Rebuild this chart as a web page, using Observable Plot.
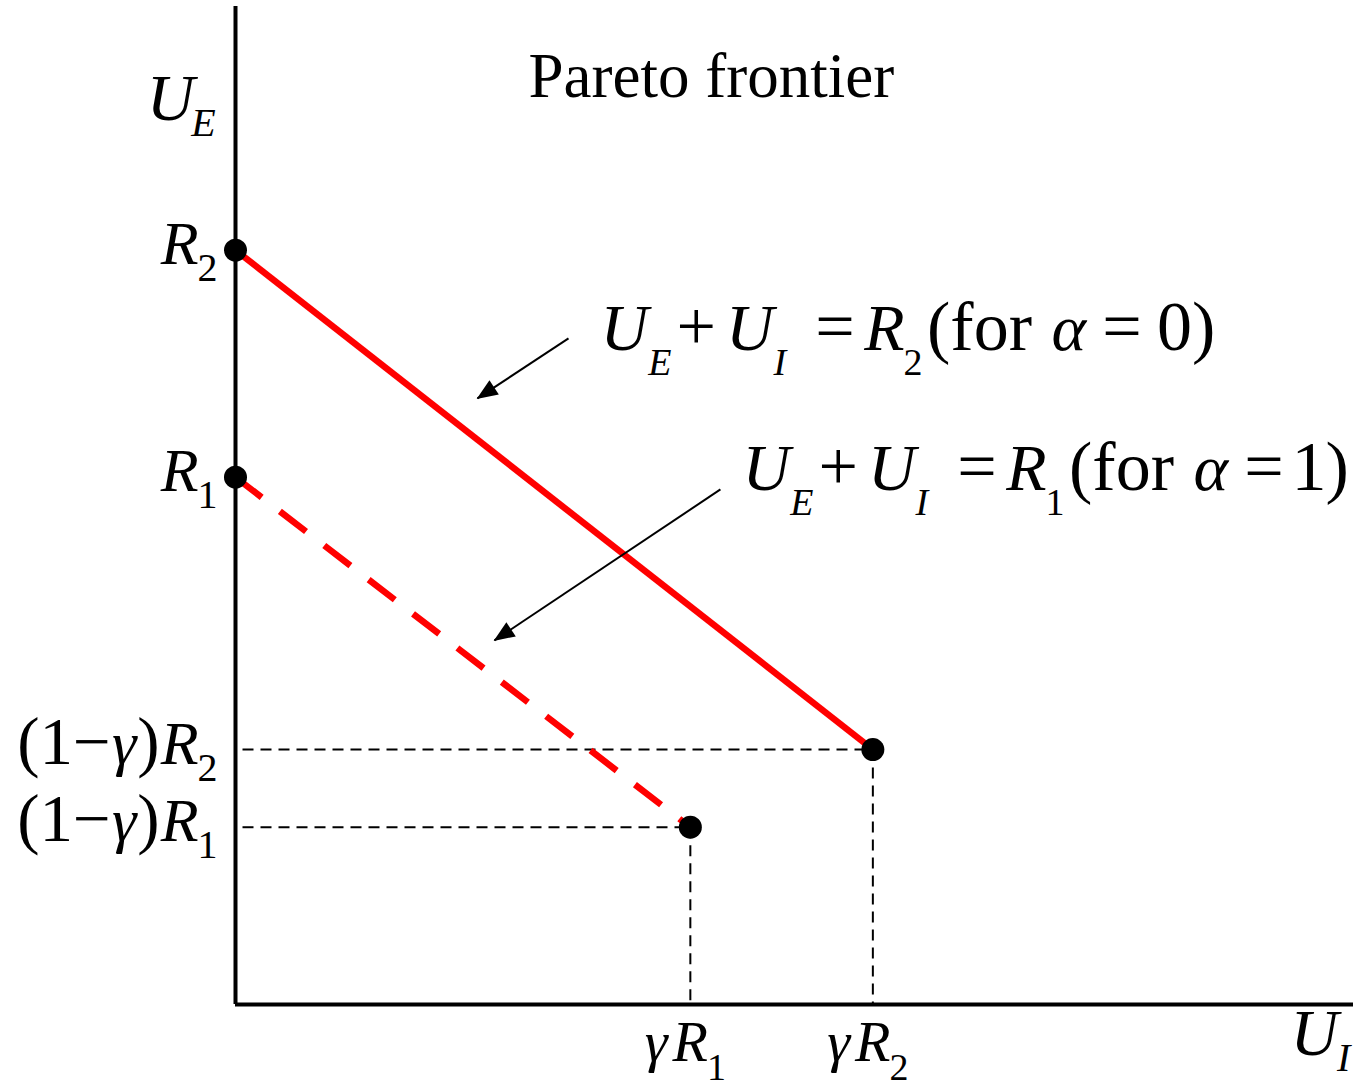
<!DOCTYPE html>
<html>
<head>
<meta charset="utf-8">
<script src="https://cdn.jsdelivr.net/npm/d3@7"></script>
<script src="https://cdn.jsdelivr.net/npm/@observablehq/plot@0.6"></script>
<style>
  body { margin: 0; background: #fff; }
</style>
</head>
<body>
<div id="chart"></div>
<script>
// Pareto frontiers in utility space, with R2 normalised to 1.
// U_I runs along the horizontal axis, U_E up the vertical one.
const frontierAlpha = [0, 1];
const frontierStartUE = [1.0, 0.699];   // R2, R1 (on the U_E axis)
const frontierEndUI = [0.667, 0.476];   // γR2, γR1
const frontierEndUE = [0.338, 0.235];   // (1−γ)R2, (1−γ)R1

// Tick labels, written as [text, flags, kern] runs: i = italic, s = subscript
const yTickValues = [1.0, 0.699, 0.338, 0.235];
const yTickLabels = [
  [["R", "i"], ["2", "s", -1]],
  [["R", "i"], ["1", "s", -1]],
  [["(1−"], ["γ", "i", 1], [")", "", 1], ["R", "i", 1], ["2", "s", -1]],
  [["(1−"], ["γ", "i", 1], [")", "", 1], ["R", "i", 1], ["1", "s", -1]]
];
const xTickValues = [0.476, 0.667];
const xTickLabels = [
  [["γ", "i"], ["R", "i", 5], ["1", "s", -1]],
  [["γ", "i"], ["R", "i", 5], ["2", "s", -1]]
];

// Text annotations and pointer arrows, placed in data units
const titleText = [["Pareto frontier"]];
const titleAt = [0.498, 1.2025];
const axisUELabel = [["U", "i"], ["E", "is", -3]];
const axisUEAt = [-0.093, 1.172];
const axisUILabel = [["U", "i"], ["I", "is", -1]];
const axisUIAt = [1.104, -0.0676];
const equationLabels = [
  [["U", "i"], ["E", "is"], ["+", "", 5], ["U", "i", 10], ["I", "is"], ["=", "", 29], ["R", "i", 9.5],
   ["2", "s", -1], ["(for", "", 4.5], ["α", "i", 19.5], ["=", "", 16], ["0", "", 15.5], [")"]],
  [["U", "i"], ["E", "is"], ["+", "", 5], ["U", "i", 10], ["I", "is"], ["=", "", 29], ["R", "i", 9.5],
   ["1", "s", -1], ["(for", "", 4.5], ["α", "i", 19.5], ["=", "", 16], ["1", "", 8], [")", "", -1]]
];
const equationAtUI = [0.382, 0.5306];
const equationAtUE = [0.867, 0.6814];
const pointerFromUI = [0.3485, 0.5075];
const pointerFromUE = [0.883, 0.6828];
const pointerToUI = [0.2532, 0.2710];
const pointerToUE = [0.8035, 0.4826];

// ---- tables built from the arrays above ----
const frontiers = frontierAlpha.map((a, i) => ({
  alpha: a,
  x1: 0, y1: frontierStartUE[i],
  x2: frontierEndUI[i], y2: frontierEndUE[i]
}));
const endpoints = frontiers.flatMap(f => [{x: f.x1, y: f.y1}, {x: f.x2, y: f.y2}]);
const plain = segs => segs.map(s => s[0]).join("");
const rows = (segsList, xs, ys) => segsList.map((segs, i) => ({segs, x: xs[i], y: ys[i], label: plain(segs)}));

const yTicks = rows(yTickLabels, yTickValues.map(() => 0), yTickValues);
const xTicks = rows(xTickLabels, xTickValues, xTickValues.map(() => 0));
const titles = rows([titleText], [titleAt[0]], [titleAt[1]]);
const axisLabels = rows([axisUELabel, axisUILabel], [axisUEAt[0], axisUIAt[0]], [axisUEAt[1], axisUIAt[1]]);
const equations = rows(equationLabels, equationAtUI, equationAtUE);
const pointers = pointerFromUI.map((_, i) => ({
  x1: pointerFromUI[i], y1: pointerFromUE[i], x2: pointerToUI[i], y2: pointerToUE[i]
}));

// Typographic settings per label group: italic size, upright size, subscript size and drop
const serif = "Liberation Serif, Times New Roman, serif";
const typeset = {
  title: {size: 63},
  axisLabel: {size: 66, sub: 40, shift: 16},
  equation: {size: 66, upright: 70, sub: 38, shift: 25},
  ytick: {size: 62, upright: 67, sub: 40, shift: 17},
  xtick: {size: 58, sub: 38, shift: 19}
};

const red = "#ff0000";
// each element carries its group name as aria-label so it can be typeset afterwards
const richText = (data, name, options) =>
  Plot.text(data, {x: "x", y: "y", text: "label", lineAnchor: "bottom", fontFamily: serif,
                   fontSize: typeset[name].size, fill: "black", ariaLabel: () => name, ...options});

const chart = Plot.plot({
  width: 1359,
  height: 1088,
  marginLeft: 235,
  marginRight: 6,
  marginTop: 6,
  marginBottom: 84,
  x: {domain: [0, 1.17], axis: null},
  y: {domain: [0, 1.323], axis: null},
  style: {background: "white", fontFamily: serif},
  marks: [
    // dashed guides from each frontier end point to both axes
    Plot.link(frontiers, {x1: 0, y1: "y2", x2: "x2", y2: "y2", stroke: "black", strokeWidth: 2,
                          strokeDasharray: "11,7", strokeDashoffset: 11}),
    Plot.link(frontiers, {x1: "x2", y1: "y2", x2: "x2", y2: 0, stroke: "black", strokeWidth: 2,
                          strokeDasharray: "11,7"}),
    // frontiers: α = 0 solid, α = 1 dashed
    Plot.link(frontiers.filter(f => f.alpha === 0), {x1: "x1", y1: "y1", x2: "x2", y2: "y2",
                          stroke: red, strokeWidth: 6.5}),
    Plot.link(frontiers.filter(f => f.alpha === 1), {x1: "x1", y1: "y1", x2: "x2", y2: "y2",
                          stroke: red, strokeWidth: 6.5, strokeDasharray: "33,23"}),
    // axes
    Plot.ruleX([0], {stroke: "black", strokeWidth: 4}),
    Plot.ruleY([0], {stroke: "black", strokeWidth: 4}),
    Plot.dot(endpoints, {x: "x", y: "y", r: 11.5, fill: "black", stroke: "none"}),
    // pointers from the equations to their frontiers
    Plot.link(pointers, {x1: "x1", y1: "y1", x2: "x2", y2: "y2", stroke: "black", strokeWidth: 2,
                         ariaLabel: () => "pointer"}),
    richText(titles, "title", {textAnchor: "middle"}),
    richText(axisLabels, "axisLabel", {textAnchor: "start"}),
    richText(equations, "equation", {textAnchor: "start"}),
    richText(yTicks, "ytick", {textAnchor: "end", dx: -18, dy: 14}),
    richText(xTicks, "xtick", {textAnchor: "middle", dx: -5, dy: 56})
  ]
});

// Filled arrowheads for the pointers
const svgNS = "http://www.w3.org/2000/svg";
const root = d3.select(chart);
root.append("defs").append("marker")
  .attr("id", "pointer-head")
  .attr("viewBox", "-24 -12 26 24")
  .attr("refX", 0).attr("refY", 0)
  .attr("markerWidth", 26).attr("markerHeight", 24)
  .attr("markerUnits", "userSpaceOnUse")
  .attr("orient", "auto")
  .append("path")
  .attr("d", "M1,0L-20,-8.5L-20,8.5Z")
  .attr("fill", "black");
root.selectAll('path[aria-label="pointer"]').attr("marker-end", "url(#pointer-head)");

// Replace the plain strings by italic / subscript runs
function typesetGroup(name, data) {
  const t = typeset[name];
  chart.querySelectorAll(`text[aria-label="${name}"]`).forEach((el, i) => {
    const segs = data[i].segs;
    el.removeAttribute("y");
    el.removeAttribute("dy");
    el.textContent = "";
    el.style.whiteSpace = "pre";
    let shift = 0;
    for (const [s, flags = "", kern = 0] of segs) {
      const ts = document.createElementNS(svgNS, "tspan");
      ts.textContent = s;
      const sub = flags.includes("s");
      const italic = flags.includes("i");
      if (italic) ts.setAttribute("font-style", "italic");
      ts.setAttribute("font-size", sub ? t.sub : italic ? t.size : (t.upright ?? t.size));
      const target = sub ? t.shift : 0;
      if (target !== shift) { ts.setAttribute("dy", target - shift); shift = target; }
      if (kern) ts.setAttribute("dx", kern);
      el.appendChild(ts);
    }
  });
}
typesetGroup("title", titles);
typesetGroup("axisLabel", axisLabels);
typesetGroup("equation", equations);
typesetGroup("ytick", yTicks);
typesetGroup("xtick", xTicks);

document.getElementById("chart").appendChild(chart);
</script>
</body>
</html>
